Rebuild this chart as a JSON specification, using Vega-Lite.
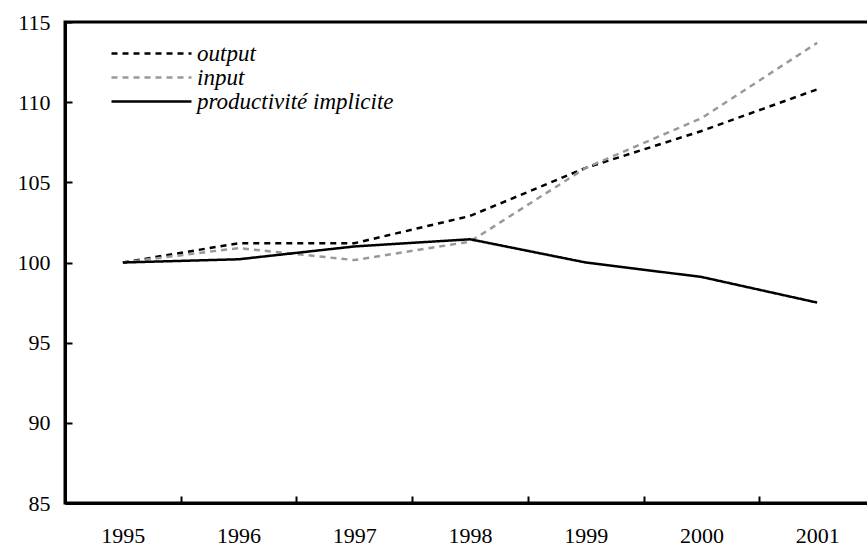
{
  "$schema": "https://vega.github.io/schema/vega-lite/v6.json",
  "autosize": {"type": "none"},
  "width": 810,
  "height": 481,
  "padding": {"left": 65, "top": 22, "right": 0, "bottom": 46},
  "background": "white",
  "config": {
    "view": {"stroke": "black", "strokeWidth": 3},
    "font": "Liberation Serif",
    "axis": {"grid": false, "domainColor": "black", "domainWidth": 3, "tickColor": "black", "tickWidth": 2, "labelColor": "black", "labelFont": "Liberation Serif", "labelFontSize": 22, "title": null}
  },
  "data": {"values": [
    {"year": "1995", "series": "output", "v": 100.0},
    {"year": "1996", "series": "output", "v": 101.2},
    {"year": "1997", "series": "output", "v": 101.2},
    {"year": "1998", "series": "output", "v": 102.9},
    {"year": "1999", "series": "output", "v": 105.9},
    {"year": "2000", "series": "output", "v": 108.2},
    {"year": "2001", "series": "output", "v": 110.8},
    {"year": "1995", "series": "input", "v": 100.0},
    {"year": "1996", "series": "input", "v": 100.9},
    {"year": "1997", "series": "input", "v": 100.15},
    {"year": "1998", "series": "input", "v": 101.3},
    {"year": "1999", "series": "input", "v": 105.9},
    {"year": "2000", "series": "input", "v": 109.0},
    {"year": "2001", "series": "input", "v": 113.7},
    {"year": "1995", "series": "productivité implicite", "v": 100.0},
    {"year": "1996", "series": "productivité implicite", "v": 100.2},
    {"year": "1997", "series": "productivité implicite", "v": 101.0},
    {"year": "1998", "series": "productivité implicite", "v": 101.45},
    {"year": "1999", "series": "productivité implicite", "v": 100.0},
    {"year": "2000", "series": "productivité implicite", "v": 99.1},
    {"year": "2001", "series": "productivité implicite", "v": 97.5}
  ]},
  "mark": {"type": "line", "strokeWidth": 2.5},
  "encoding": {
    "x": {"field": "year", "type": "ordinal", "bandPosition": 0.5,
      "scale": {"type": "band", "paddingInner": 0, "paddingOuter": 0},
      "axis": {"labelAngle": 0, "tickBand": "extent", "tickSize": -7, "labelPadding": 29, "labelBaseline": "top"}},
    "y": {"field": "v", "type": "quantitative",
      "scale": {"domain": [85, 115], "nice": false, "zero": false},
      "axis": {"values": [85, 90, 95, 100, 105, 110, 115], "tickSize": -7, "labelPadding": 22}},
    "color": {"field": "series", "type": "nominal",
      "scale": {"domain": ["output", "input", "productivité implicite"], "range": ["black", "#999999", "black"]},
      "legend": {"title": null, "orient": "none", "legendX": 35, "legendY": 20, "symbolType": "M0,0H8", "symbolSize": 400, "symbolStrokeWidth": 2.5, "labelFont": "Liberation Serif", "labelFontStyle": "italic", "labelFontSize": 23, "labelLimit": 0, "labelColor": "black", "labelOffset": 74, "rowPadding": -2}},
    "strokeDash": {"field": "series", "type": "nominal",
      "scale": {"domain": ["output", "input", "productivité implicite"], "range": [[6, 5], [6, 5], [1, 0]]}}
  }
}
